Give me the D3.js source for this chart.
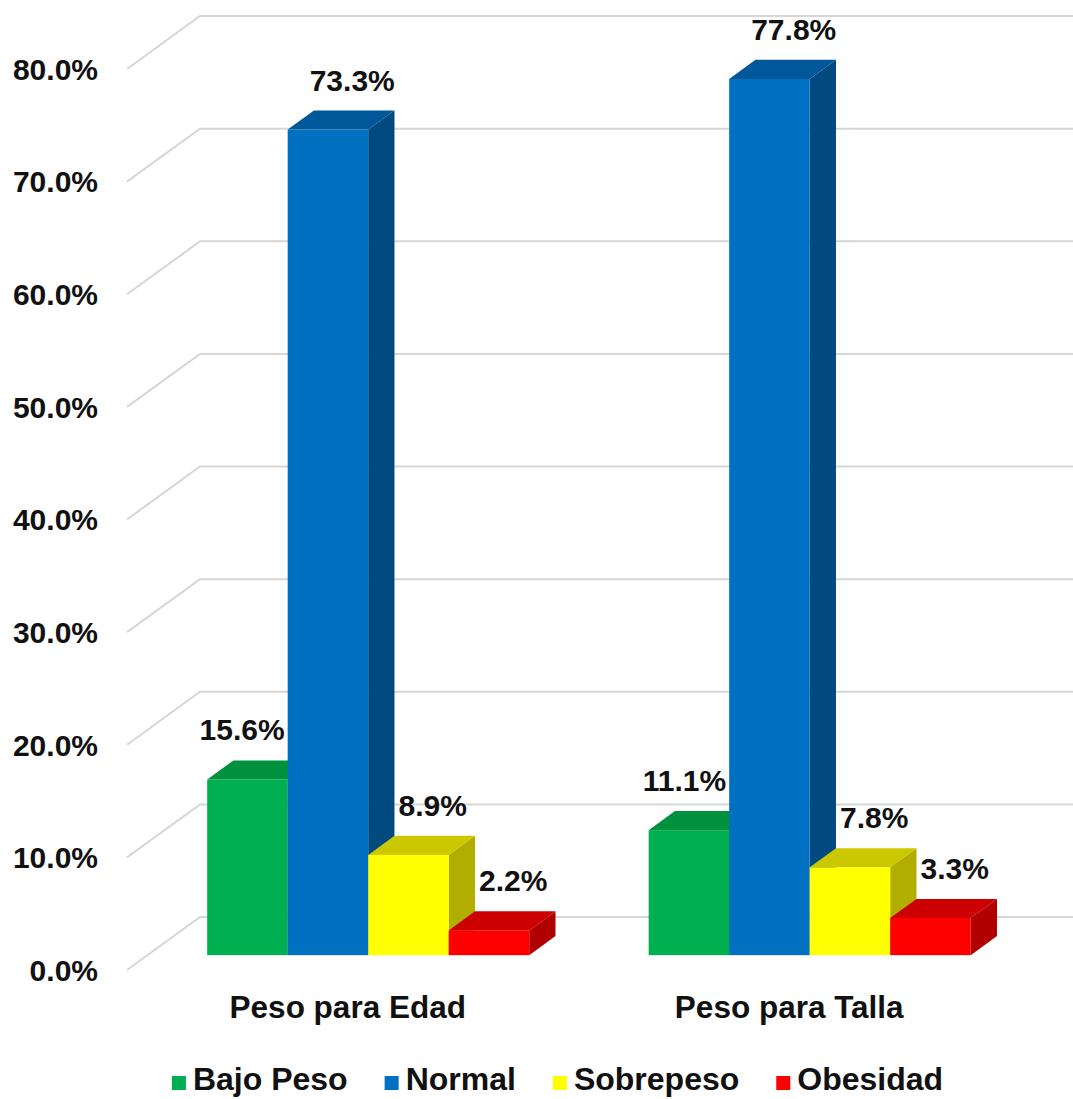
<!DOCTYPE html>
<html>
<head>
<meta charset="utf-8">
<script src="https://cdn.jsdelivr.net/npm/d3@7/dist/d3.min.js"></script>
<style>
  html, body { margin: 0; padding: 0; background: #ffffff; }
  svg text { font-family: "Liberation Sans", Arial, sans-serif; font-weight: bold; fill: #111; }
</style>
</head>
<body>
<svg id="chart" width="1073" height="1099"></svg>
<script>
// Nutritional status by indicator (% of children)
const categories = ["Peso para Edad", "Peso para Talla"];
const series = ["Bajo Peso", "Normal", "Sobrepeso", "Obesidad"];
const bajoPeso  = [15.6, 11.1];
const normal    = [73.3, 77.8];
const sobrepeso = [8.9, 7.8];
const obesidad  = [2.2, 3.3];
const yTicks = [0, 10, 20, 30, 40, 50, 60, 70, 80];

const values = [bajoPeso, normal, sobrepeso, obesidad];

// face colours: front, top, side
const palette = [
  { front: "#00B050", top: "#00913F", side: "#007A35" },
  { front: "#0070C0", top: "#00579A", side: "#004A80" },
  { front: "#FFFF00", top: "#CCC800", side: "#B2AE00" },
  { front: "#FF0000", top: "#CC0000", side: "#B00000" }
];

const svg = d3.select("#chart");

// oblique projection: depth d in [0,1] shifts points right and up
const DEPTH_X = 73, DEPTH_Y = 53;
const proj = (x, y, d) => [x + d * DEPTH_X, y - d * DEPTH_Y];

const x0 = d3.scaleBand().domain(categories).range([127, 1010]);
const x1 = d3.scaleBand().domain(series).range([0, x0.bandwidth()]).paddingOuter(0.742);
const y = d3.scaleLinear().domain([0, 80]).range([970, 69]);

const barFront = 0.28, barBack = 0.64;

// gridlines: floor diagonal then along the back wall
const grid = svg.append("g");
yTicks.forEach(t => {
  const a = proj(127, y(t), 0), b = proj(127, y(t), 1);
  grid.append("path")
    .attr("d", d3.line()([a, b, [1073, b[1]]]))
    .attr("fill", "none").attr("stroke", "#d6d6d6").attr("stroke-width", 2);
});

// value axis labels
const fmt = d3.format(".1f");
svg.append("g").selectAll("text").data(yTicks).join("text")
  .attr("x", 98).attr("y", d => y(d)).attr("dy", "0.36em")
  .attr("text-anchor", "end").attr("font-size", 30)
  .text(d => fmt(d) + "%");

// bars, drawn left to right so each covers its neighbour's side face
const bars = svg.append("g");
const labels = svg.append("g");
categories.forEach((c, ci) => {
  series.forEach((s, si) => {
    const v = values[si][ci];
    const xl = x0(c) + x1(s), xr = xl + x1.bandwidth();
    const yt = y(v), yb = y(0);
    const col = palette[si];
    const P = (x, yy, d) => proj(x, yy, d);
    // side face
    bars.append("path").attr("fill", col.side)
      .attr("d", d3.line()([P(xr, yb, barFront), P(xr, yb, barBack), P(xr, yt, barBack), P(xr, yt, barFront)]) + "Z");
    // top face
    bars.append("path").attr("fill", col.top)
      .attr("d", d3.line()([P(xl, yt, barFront), P(xr, yt, barFront), P(xr, yt, barBack), P(xl, yt, barBack)]) + "Z");
    // front face
    const f0 = P(xl, yt, barFront), f1 = P(xr, yb, barFront);
    bars.append("rect").attr("fill", col.front)
      .attr("x", f0[0]).attr("y", f0[1]).attr("width", f1[0] - f0[0]).attr("height", f1[1] - f0[1]);

    // value label above the top face; pushed left when the next bar is taller
    const backTop = P((xl + xr) / 2, yt, barBack);
    const next = values[si + 1] ? values[si + 1][ci] : null;
    const t = labels.append("text").attr("font-size", 30).attr("y", backTop[1] - 20).text(fmt(v) + "%");
    if (next !== null && next > v) {
      t.attr("x", P(xr, yt, barFront)[0] - 3).attr("text-anchor", "end");
    } else {
      t.attr("x", backTop[0] - 2).attr("text-anchor", "middle");
    }
  });
});

// category labels at the front edge of the floor
svg.append("g").selectAll("text").data(categories).join("text")
  .attr("x", d => x0(d) + x0.bandwidth() / 2).attr("y", 1018)
  .attr("text-anchor", "middle").attr("font-size", 31.5)
  .text(d => d);

// legend
const legend = svg.append("g");
const items = series.map((s, i) => {
  const g = legend.append("g");
  g.append("rect").attr("width", 14).attr("height", 14).attr("y", -14).attr("fill", palette[i].front);
  const tx = g.append("text").attr("x", 21).attr("font-size", 32).text(s);
  return { g, w: 21 + tx.node().getComputedTextLength() };
});
const gap = 37;
const total = d3.sum(items, d => d.w) + gap * (items.length - 1);
let cx = 557.5 - total / 2;
items.forEach(it => {
  it.g.attr("transform", `translate(${cx},1090)`);
  cx += it.w + gap;
});
</script>
</body>
</html>
